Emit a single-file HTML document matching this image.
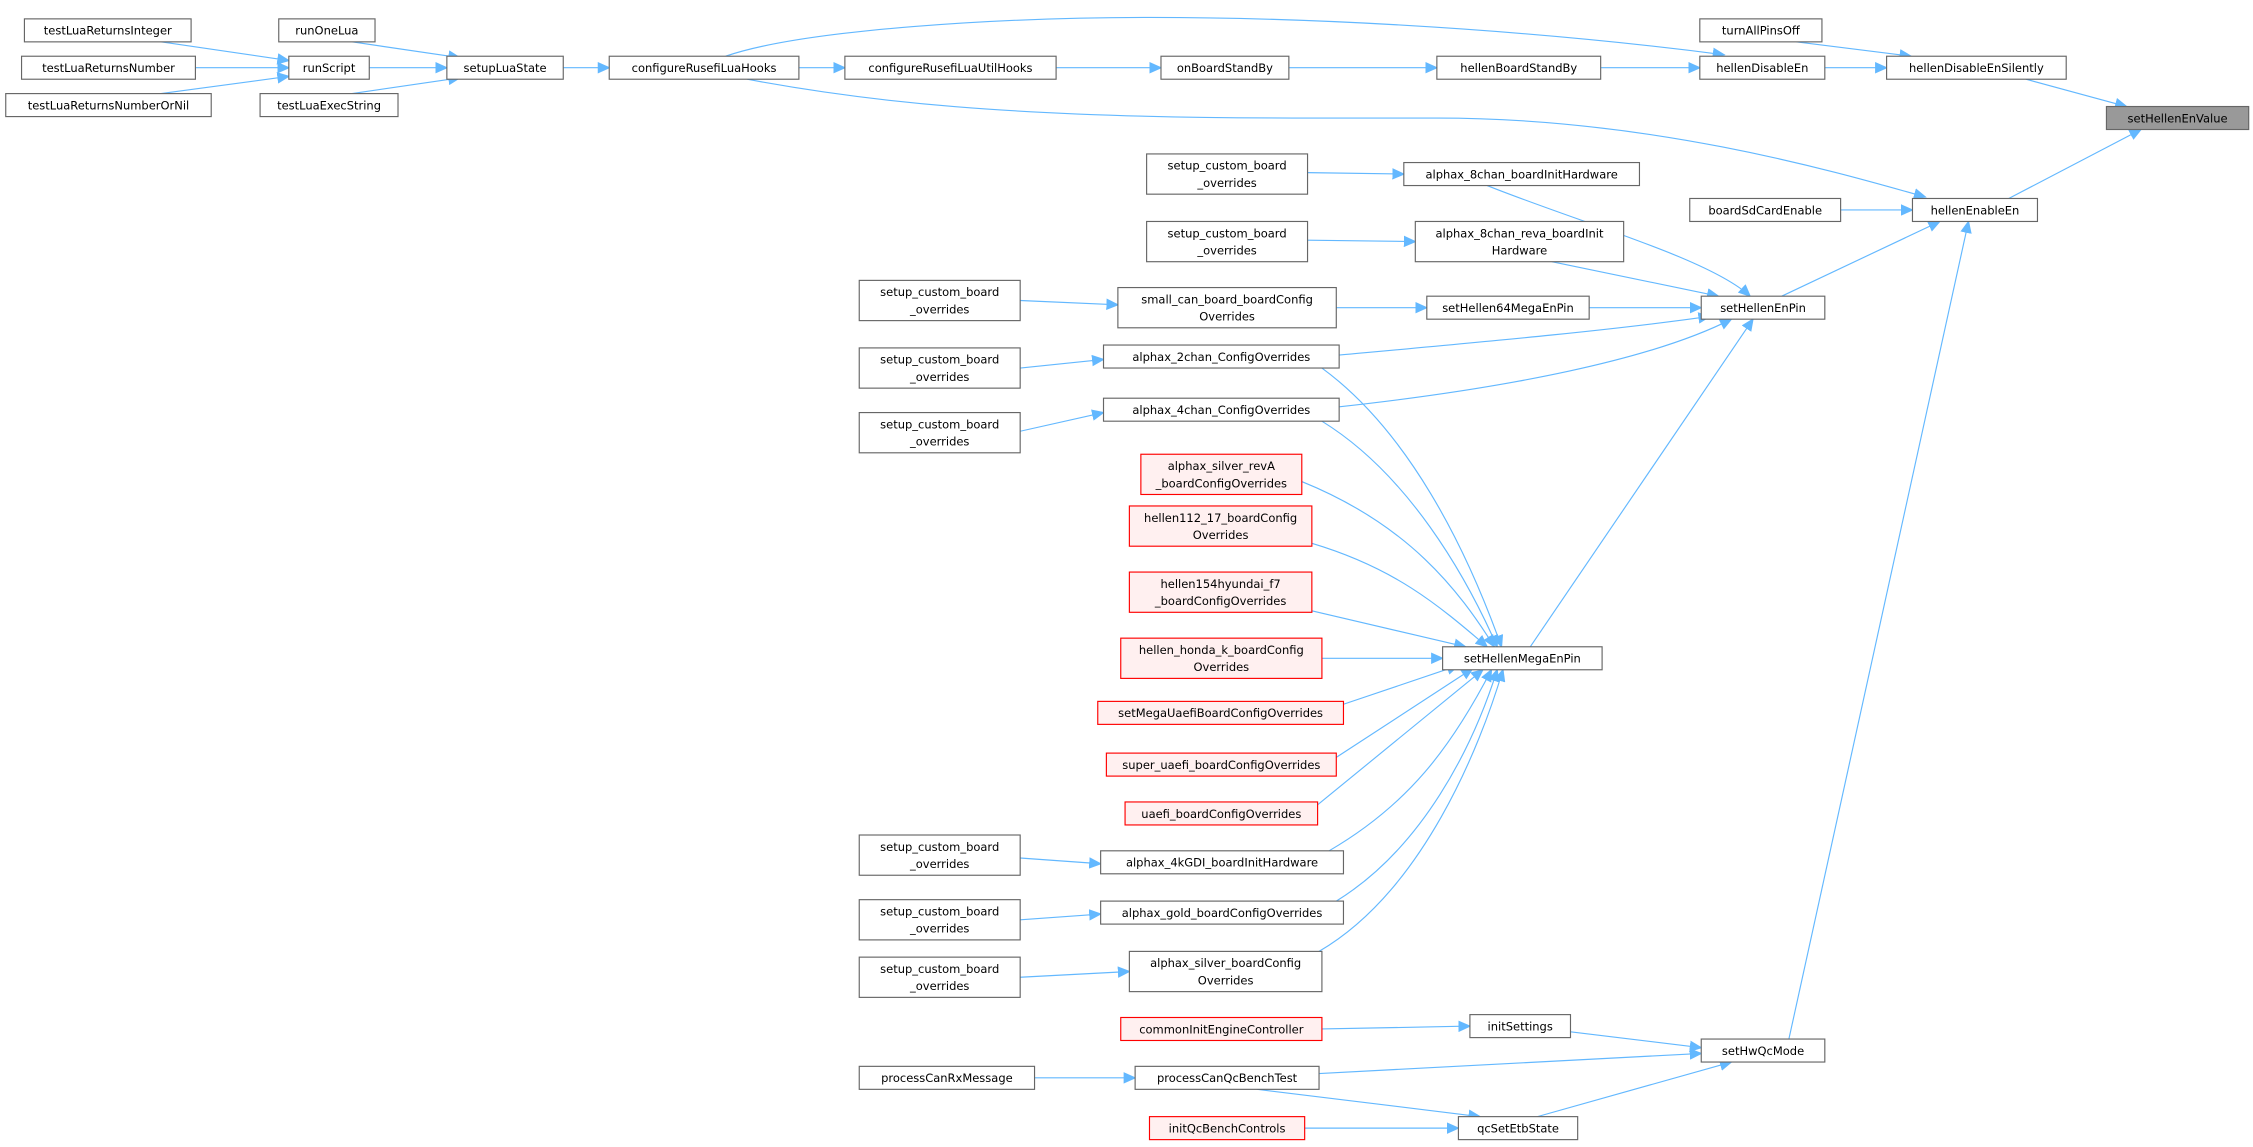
<!DOCTYPE html>
<html><head><meta charset="utf-8"><style>
html,body{margin:0;padding:0;background:#fff;}
svg{display:block;}
text{font-family:"DejaVu Sans","Liberation Sans",sans-serif;font-size:8px;fill:#000;}
.e{fill:none;stroke:#63b8ff;stroke-width:0.8;marker-end:url(#a);}
</style></head><body>
<svg width="2253" height="1147" viewBox="0 0 1568 798" xmlns="http://www.w3.org/2000/svg">
<defs><marker id="a" markerUnits="userSpaceOnUse" markerWidth="9" markerHeight="8" refX="8" refY="4" orient="auto"><path d="M0,0 L9,4 L0,8 z" fill="#63b8ff"/></marker></defs>
<g>
<path class="e" d="M112,29 L201,42"/>
<path class="e" d="M136,47 L201,47"/>
<path class="e" d="M112,65 L201,53"/>
<path class="e" d="M245,29 L320,40"/>
<path class="e" d="M257,47 L311,47"/>
<path class="e" d="M245,65 L320,54"/>
<path class="e" d="M392,47 L424,47"/>
<path class="e" d="M556,47 L588,47"/>
<path class="e" d="M505,39 C560,20 700,12 800,12 C950,12 1100,25 1200,38"/>
<path class="e" d="M520,55 C600,70 700,82 900,82 L1000,82 C1150,82 1280,120 1340,137"/>
<path class="e" d="M735,47 L808,47"/>
<path class="e" d="M897,47 L1000,47"/>
<path class="e" d="M1114,47 L1183,47"/>
<path class="e" d="M1270,47 L1313,47"/>
<path class="e" d="M1250,29 L1330,39"/>
<path class="e" d="M1410,55 L1480,74"/>
<path class="e" d="M1398,138 L1490,90"/>
<path class="e" d="M1281,146 L1331,146"/>
<path class="e" d="M1240,206 L1350,154"/>
<path class="e" d="M1245,723 L1370,154"/>
<path class="e" d="M910,120 L977,121"/>
<path class="e" d="M1035,129 C1100,155 1190,180 1218,206"/>
<path class="e" d="M910,167 L985,168"/>
<path class="e" d="M1080,182 L1196,206"/>
<path class="e" d="M930,214 L993,214"/>
<path class="e" d="M1106,214 L1184,214"/>
<path class="e" d="M710,209 L778,212"/>
<path class="e" d="M932,247 C1030,238 1120,230 1190,220"/>
<path class="e" d="M932,283 C1050,270 1150,250 1205,222"/>
<path class="e" d="M1065,450 L1220,222"/>
<path class="e" d="M710,256 L768,250"/>
<path class="e" d="M710,300 L768,287"/>
<path class="e" d="M920,256 C980,300 1020,380 1045,450"/>
<path class="e" d="M920,293 C980,330 1020,400 1042,450"/>
<path class="e" d="M906,335 C980,365 1015,410 1040,450"/>
<path class="e" d="M913,378 C970,395 1000,420 1035,450"/>
<path class="e" d="M913,425 L1020,450"/>
<path class="e" d="M920,458 L1004,458"/>
<path class="e" d="M935,490 L1015,463"/>
<path class="e" d="M930,527 L1025,465"/>
<path class="e" d="M917,560 L1032,466"/>
<path class="e" d="M925,592 C980,560 1010,520 1038,466"/>
<path class="e" d="M930,627 C990,590 1025,520 1042,466"/>
<path class="e" d="M918,662 C990,620 1030,520 1046,466"/>
<path class="e" d="M710,597 L766,601"/>
<path class="e" d="M710,640 L766,636"/>
<path class="e" d="M710,680 L786,676"/>
<path class="e" d="M920,716 L1023,714"/>
<path class="e" d="M1093,718 L1184,729"/>
<path class="e" d="M720,750 L790,750"/>
<path class="e" d="M918,747 L1184,733"/>
<path class="e" d="M875,758 L1030,777"/>
<path class="e" d="M908,785 L1015,785"/>
<path class="e" d="M1070,777 L1205,739"/>
</g>
<g stroke="#666" stroke-width="0.8" fill="#fff">
<rect x="17" y="13" width="116" height="16"/>
<rect x="15" y="39" width="121" height="16"/>
<rect x="4" y="65" width="143" height="16"/>
<rect x="194" y="13" width="67" height="16"/>
<rect x="201" y="39" width="56" height="16"/>
<rect x="181" y="65" width="96" height="16"/>
<rect x="311" y="39" width="81" height="16"/>
<rect x="424" y="39" width="132" height="16"/>
<rect x="588" y="39" width="147" height="16"/>
<rect x="808" y="39" width="89" height="16"/>
<rect x="1000" y="39" width="114" height="16"/>
<rect x="1183" y="39" width="87" height="16"/>
<rect x="1183" y="13" width="85" height="16"/>
<rect x="1313" y="39" width="125" height="16"/>
<rect x="1466" y="74" width="99" height="16" fill="#999"/>
<rect x="1331" y="138" width="87" height="16"/>
<rect x="1176" y="138" width="105" height="16"/>
<rect x="977" y="113" width="164" height="16"/>
<rect x="798" y="107" width="112" height="28"/>
<rect x="798" y="154" width="112" height="28"/>
<rect x="985" y="154" width="145" height="28"/>
<rect x="993" y="206" width="113" height="16"/>
<rect x="1184" y="206" width="86" height="16"/>
<rect x="778" y="200" width="152" height="28"/>
<rect x="598" y="195" width="112" height="28"/>
<rect x="768" y="240" width="164" height="16"/>
<rect x="598" y="242" width="112" height="28"/>
<rect x="768" y="277" width="164" height="16"/>
<rect x="598" y="287" width="112" height="28"/>
<rect x="1004" y="450" width="111" height="16"/>
<rect x="766" y="592" width="169" height="16"/>
<rect x="598" y="581" width="112" height="28"/>
<rect x="766" y="627" width="169" height="16"/>
<rect x="598" y="626" width="112" height="28"/>
<rect x="786" y="662" width="134" height="28"/>
<rect x="598" y="666" width="112" height="28"/>
<rect x="1023" y="706" width="70" height="16"/>
<rect x="1184" y="723" width="86" height="16"/>
<rect x="598" y="742" width="122" height="16"/>
<rect x="790" y="742" width="128" height="16"/>
<rect x="1015" y="777" width="83" height="16"/>
</g>
<g stroke="#ff0000" stroke-width="0.8" fill="#fff0f0">
<rect x="794" y="316" width="112" height="28"/>
<rect x="786" y="352" width="127" height="28"/>
<rect x="786" y="398" width="127" height="28"/>
<rect x="780" y="444" width="140" height="28"/>
<rect x="764" y="488" width="171" height="16"/>
<rect x="770" y="524" width="160" height="16"/>
<rect x="783" y="558" width="134" height="16"/>
<rect x="780" y="708" width="140" height="16"/>
<rect x="800" y="777" width="108" height="16"/>
</g>
<g text-anchor="middle">
<text x="75" y="24">testLuaReturnsInteger</text>
<text x="75.5" y="50">testLuaReturnsNumber</text>
<text x="75.5" y="76">testLuaReturnsNumberOrNil</text>
<text x="227.5" y="24">runOneLua</text>
<text x="229" y="50">runScript</text>
<text x="229" y="76">testLuaExecString</text>
<text x="351.5" y="50">setupLuaState</text>
<text x="490" y="50">configureRusefiLuaHooks</text>
<text x="661.5" y="50">configureRusefiLuaUtilHooks</text>
<text x="852.5" y="50">onBoardStandBy</text>
<text x="1057" y="50">hellenBoardStandBy</text>
<text x="1226.5" y="50">hellenDisableEn</text>
<text x="1225.5" y="24">turnAllPinsOff</text>
<text x="1375.5" y="50">hellenDisableEnSilently</text>
<text x="1515.5" y="85">setHellenEnValue</text>
<text x="1374.5" y="149">hellenEnableEn</text>
<text x="1228.5" y="149">boardSdCardEnable</text>
<text x="1059" y="124">alphax_8chan_boardInitHardware</text>
<text x="854" y="118">setup_custom_board</text><text x="854" y="130">_overrides</text>
<text x="854" y="165">setup_custom_board</text><text x="854" y="177">_overrides</text>
<text x="1057.5" y="165">alphax_8chan_reva_boardInit</text><text x="1057.5" y="177">Hardware</text>
<text x="1049.5" y="217">setHellen64MegaEnPin</text>
<text x="1227" y="217">setHellenEnPin</text>
<text x="854" y="211">small_can_board_boardConfig</text><text x="854" y="223">Overrides</text>
<text x="654" y="206">setup_custom_board</text><text x="654" y="218">_overrides</text>
<text x="850" y="251">alphax_2chan_ConfigOverrides</text>
<text x="654" y="253">setup_custom_board</text><text x="654" y="265">_overrides</text>
<text x="850" y="288">alphax_4chan_ConfigOverrides</text>
<text x="654" y="298">setup_custom_board</text><text x="654" y="310">_overrides</text>
<text x="850" y="327">alphax_silver_revA</text><text x="850" y="339">_boardConfigOverrides</text>
<text x="849.5" y="363">hellen112_17_boardConfig</text><text x="849.5" y="375">Overrides</text>
<text x="849.5" y="409">hellen154hyundai_f7</text><text x="849.5" y="421">_boardConfigOverrides</text>
<text x="850" y="455">hellen_honda_k_boardConfig</text><text x="850" y="467">Overrides</text>
<text x="849.5" y="499">setMegaUaefiBoardConfigOverrides</text>
<text x="850" y="535">super_uaefi_boardConfigOverrides</text>
<text x="850" y="569">uaefi_boardConfigOverrides</text>
<text x="1059.5" y="461">setHellenMegaEnPin</text>
<text x="850.5" y="603">alphax_4kGDI_boardInitHardware</text>
<text x="654" y="592">setup_custom_board</text><text x="654" y="604">_overrides</text>
<text x="850.5" y="638">alphax_gold_boardConfigOverrides</text>
<text x="654" y="637">setup_custom_board</text><text x="654" y="649">_overrides</text>
<text x="853" y="673">alphax_silver_boardConfig</text><text x="853" y="685">Overrides</text>
<text x="654" y="677">setup_custom_board</text><text x="654" y="689">_overrides</text>
<text x="850" y="719">commonInitEngineController</text>
<text x="1058" y="717">initSettings</text>
<text x="1227" y="734">setHwQcMode</text>
<text x="659" y="753">processCanRxMessage</text>
<text x="854" y="753">processCanQcBenchTest</text>
<text x="854" y="788">initQcBenchControls</text>
<text x="1056.5" y="788">qcSetEtbState</text>
</g>
</svg>
</body></html>
